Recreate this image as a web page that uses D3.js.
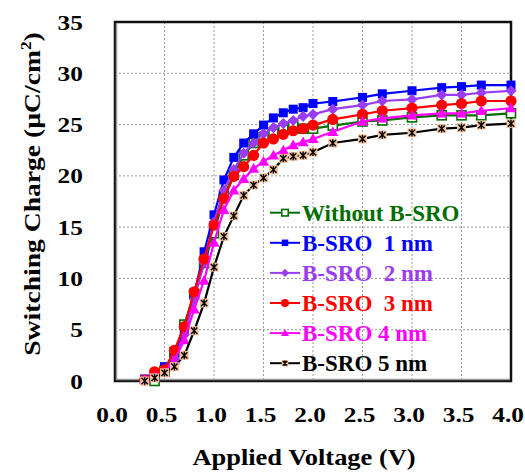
<!DOCTYPE html>
<html>
<head>
<meta charset="utf-8">
<script src="https://cdn.jsdelivr.net/npm/d3@7"></script>
<style>
  body { margin: 0; background: #fff; }
  svg { display: block; }
  text { font-family: 'Liberation Serif', 'Times New Roman', serif; font-weight: bold; }
</style>
</head>
<body>
<div id="chart"></div>
<script>
// Data
const voltages = [0.3, 0.4, 0.5, 0.6, 0.7, 0.8, 0.9, 1.0, 1.1, 1.2, 1.3, 1.4, 1.5, 1.6, 1.7, 1.8, 1.9, 2.0, 2.2, 2.5, 2.7, 3.0, 3.3, 3.5, 3.7, 4.0];

const withoutBSRO = [null, 0.0, 1.0, 2.8, 5.5, 8.5, 11.5, 14.4, 18.0, 20.1, 22.0, 23.2, 23.8, 24.1, 24.5, 24.9, 24.6, 24.6, 24.9, 25.3, 25.4, 25.7, 25.9, 25.9, 25.9, 26.1];
const bsro1 = [0.2, 0.5, 1.4, 2.5, 5.0, 8.5, 12.6, 16.2, 19.6, 21.8, 23.2, 24.1, 24.95, 25.65, 26.15, 26.5, 26.65, 27.05, 27.25, 27.65, 28.0, 28.3, 28.6, 28.7, 28.85, 28.85];
const bsro2 = [0.1, 0.5, 1.0, 2.2, 4.5, 8.0, 11.5, 15.5, 18.6, 20.6, 22.2, 23.2, 24.1, 24.7, 25.1, 25.4, 25.8, 26.0, 26.5, 26.9, 27.3, 27.45, 27.9, 27.9, 28.1, 28.3];
const bsro3 = [0.1, 0.9, 1.1, 3.0, 5.3, 8.7, 11.9, 15.2, 17.8, 19.95, 20.9, 22.0, 23.2, 23.6, 24.05, 24.4, 24.6, 24.95, 25.5, 26.0, 26.35, 26.6, 26.9, 27.05, 27.3, 27.3];
const bsro4 = [0.1, 0.4, 0.8, 2.0, 4.0, 7.0, 9.8, 13.5, 16.7, 18.6, 19.7, 20.7, 21.4, 22.0, 22.5, 23.0, 23.3, 23.6, 24.3, 25.3, 25.6, 25.9, 26.1, 26.1, 26.35, 26.6];
const bsro5 = [0.0, 0.3, 0.8, 1.4, 2.5, 4.9, 7.6, 11.1, 14.1, 16.1, 18.1, 19.1, 19.8, 20.6, 21.7, 21.9, 22.0, 22.3, 23.2, 23.6, 24.0, 24.2, 24.6, 24.7, 24.95, 25.1];

const seriesNames = ['Without B-SRO', 'B-SRO  1 nm', 'B-SRO  2 nm', 'B-SRO  3 nm', 'B-SRO 4 nm', 'B-SRO 5 nm'];
const seriesValues = [withoutBSRO, bsro1, bsro2, bsro3, bsro4, bsro5];
const seriesColors = ['#006e00', '#0000ff', '#9b3cf5', '#ff0000', '#ff00ff', '#000000'];
const seriesMarkers = ['openSquare', 'square', 'diamond', 'circle', 'triangle', 'star'];

const xTicks = [0, 0.5, 1, 1.5, 2, 2.5, 3, 3.5, 4];
const yTicks = [0, 5, 10, 15, 20, 25, 30, 35];

const width = 525;
const height = 472;
const plot = { left: 115, right: 511, top: 22, bottom: 381 };
const stretch = 'scale(1.15,1)';

const x = d3.scaleLinear().domain([0, 4]).range([plot.left, plot.right]);
const y = d3.scaleLinear().domain([0, 35]).range([plot.bottom, plot.top]);

const svg = d3.select('#chart').append('svg')
  .attr('width', width)
  .attr('height', height);

// grid
const grid = svg.append('g').attr('stroke', '#9a9a9a').attr('stroke-width', 1).attr('stroke-dasharray', '2,2');
grid.selectAll('.gx').data(xTicks.slice(1, -1)).enter().append('line')
  .attr('x1', (d) => x(d)).attr('x2', (d) => x(d))
  .attr('y1', plot.top).attr('y2', plot.bottom);
grid.selectAll('.gy').data(yTicks.slice(1, -1)).enter().append('line')
  .attr('x1', plot.left).attr('x2', plot.right)
  .attr('y1', (d) => y(d)).attr('y2', (d) => y(d));

// frame
svg.append('rect')
  .attr('x', plot.left).attr('y', plot.top)
  .attr('width', plot.right - plot.left).attr('height', plot.bottom - plot.top)
  .attr('fill', 'none').attr('stroke', '#111').attr('stroke-width', 2.5);
svg.append('path')
  .attr('d', `M${plot.left + 1.5},${plot.top + 1}V${plot.bottom - 1.5}H${plot.right - 1}`)
  .attr('fill', 'none').attr('stroke', '#999').attr('stroke-width', 1.5);

// axes
const xAxis = svg.append('g')
  .attr('transform', `translate(0,${plot.bottom})`)
  .call(d3.axisBottom(x).tickValues(xTicks).tickSize(0).tickPadding(25).tickFormat(d3.format('.1f')));
const yAxis = svg.append('g')
  .attr('transform', `translate(${plot.left},0)`)
  .call(d3.axisLeft(y).tickValues(yTicks).tickSize(0).tickPadding(28).tickFormat(d3.format('d')));
[xAxis, yAxis].forEach((ax) => {
  ax.select('.domain').remove();
  ax.selectAll('text')
    .attr('font-family', "'Liberation Serif', serif")
    .attr('font-weight', 'bold')
    .attr('font-size', 22)
    .attr('fill', '#000')
    .attr('transform', stretch);
});
xAxis.selectAll('text').attr('x', -3);

// axis titles
svg.append('text')
  .attr('transform', `translate(304,465) ${stretch}`)
  .attr('text-anchor', 'middle')
  .attr('font-size', 23)
  .text('Applied Voltage (V)');

const yTitle = svg.append('text')
  .attr('transform', `translate(40,194) rotate(-90) ${stretch}`)
  .attr('text-anchor', 'middle')
  .attr('font-size', 24);
yTitle.append('tspan').text('Switching Charge (µC/cm');
yTitle.append('tspan').attr('dy', -9).attr('font-size', 15).text('2');
yTitle.append('tspan').attr('dy', 9).text(')');

// markers
function drawMarker(g, type, color, s) {
  if (type === 'openSquare') {
    g.append('rect').attr('x', -s / 2).attr('y', -s / 2).attr('width', s).attr('height', s)
      .attr('fill', '#fff').attr('stroke', color).attr('stroke-width', 1.6);
  } else if (type === 'square') {
    g.append('rect').attr('x', -s / 2).attr('y', -s / 2).attr('width', s).attr('height', s)
      .attr('fill', color);
  } else if (type === 'diamond') {
    const h = s * 0.62;
    g.append('path').attr('d', `M0,${-h}L${h},0L0,${h}L${-h},0Z`).attr('fill', color);
  } else if (type === 'circle') {
    g.append('circle').attr('r', s * 0.62).attr('fill', color);
  } else if (type === 'triangle') {
    const h = s * 0.62;
    g.append('path').attr('d', `M0,${-h}L${h},${h * 0.75}L${-h},${h * 0.75}Z`).attr('fill', color);
  } else if (type === 'star') {
    const h = s / 2;
    g.append('rect').attr('x', -h).attr('y', -h).attr('width', s).attr('height', s).attr('fill', '#f3c29c');
    g.append('path')
      .attr('d', `M${-h * 0.7},${-h * 0.7}L${h * 0.7},${h * 0.7}M${h * 0.7},${-h * 0.7}L${-h * 0.7},${h * 0.7}M0,${-h * 0.85}V${h * 0.85}`)
      .attr('stroke', color).attr('stroke-width', 1.4).attr('fill', 'none');
  }
}

const line = d3.line()
  .defined((d) => d.v !== null)
  .x((d) => x(d.x))
  .y((d) => y(d.v));

seriesValues.forEach((vals, i) => {
  const pts = voltages.map((v, j) => ({ x: v, v: vals[j] }));
  const g = svg.append('g');
  g.append('path')
    .datum(pts)
    .attr('d', line)
    .attr('fill', 'none')
    .attr('stroke', seriesColors[i])
    .attr('stroke-width', 2.2);
  g.selectAll('.pt')
    .data(pts.filter((d) => d.v !== null))
    .enter()
    .append('g')
    .attr('transform', (d) => `translate(${x(d.x)},${y(d.v)})`)
    .each(function () {
      drawMarker(d3.select(this), seriesMarkers[i], seriesColors[i], 9);
    });
});

// legend
const legend = svg.append('g').attr('transform', 'translate(270,212.7)');
seriesNames.forEach((name, i) => {
  const row = legend.append('g').attr('transform', `translate(0,${i * 30.1})`);
  row.append('line').attr('x1', 0).attr('x2', 30).attr('stroke', seriesColors[i]).attr('stroke-width', 2);
  drawMarker(row.append('g').attr('transform', 'translate(15,0)'), seriesMarkers[i], seriesColors[i], 6.5);
  row.append('text')
    .attr('x', 32)
    .attr('dy', '0.34em')
    .attr('font-size', 23)
    .attr('fill', seriesColors[i])
    .attr('xml:space', 'preserve')
    .style('white-space', 'pre')
    .text(name);
});
</script>
</body>
</html>
